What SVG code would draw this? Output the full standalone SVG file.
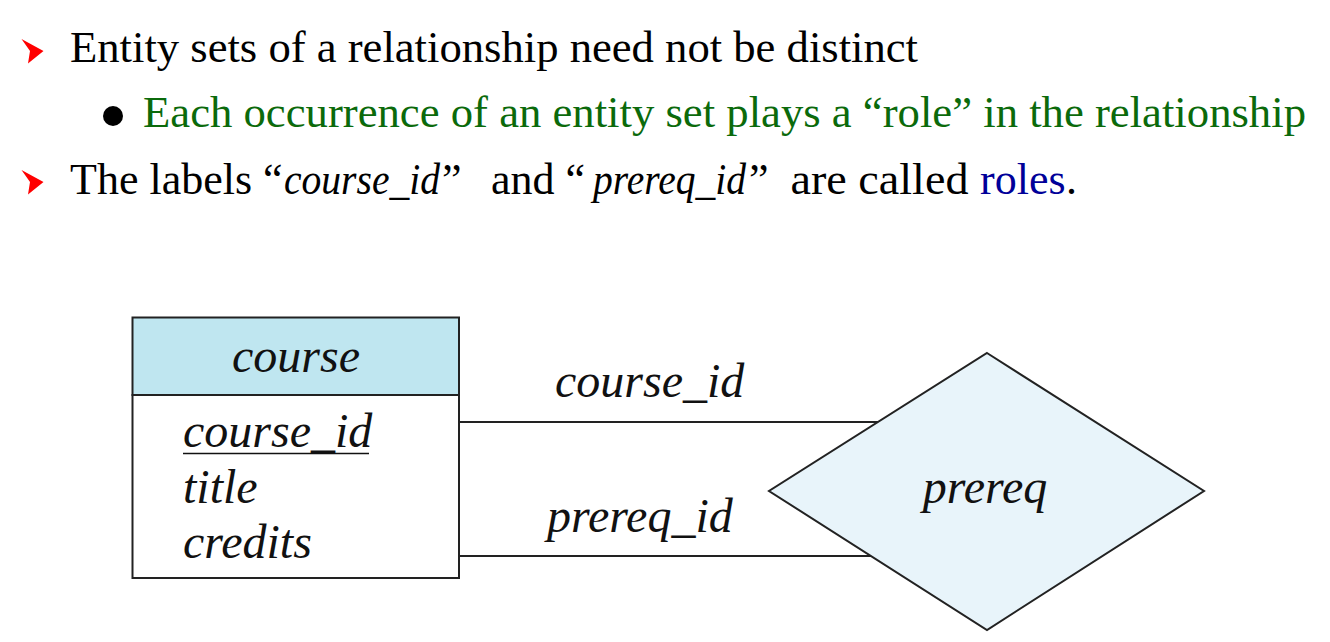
<svg xmlns="http://www.w3.org/2000/svg" width="1330" height="642" viewBox="0 0 1330 642">
<style>
.body{font-family:'Liberation Serif','DejaVu Serif',serif;font-size:44px;fill:#000}
.it{font-style:italic}
.green{fill:#0b6a0b}
.blue{fill:#000099}
.er{font-family:'Liberation Serif','DejaVu Serif',serif;font-style:italic;font-size:48px;fill:#111}
.edge{stroke:#222;stroke-width:2;fill:none}
.arrowb{fill:#ff0000}
</style>
<defs>
<polygon id="bul" points="0,0 22,12 6.5,24.5 8.5,12"/>
</defs>
<rect width="1330" height="642" fill="#fff"/>
<g id="bullets-text">
<use href="#bul" x="21.5" y="39" class="arrowb"/>
<text class="body" x="70" y="62" textLength="848" lengthAdjust="spacingAndGlyphs">Entity sets of a relationship need not be distinct</text>
<circle cx="113" cy="116" r="10" fill="#000"/>
<text class="body green" x="143" y="127" textLength="1163" lengthAdjust="spacingAndGlyphs">Each occurrence of an entity set plays a “role” in the relationship</text>
<use href="#bul" x="21.5" y="170" class="arrowb"/>
<text class="body" y="193.5"><tspan x="70">The labels “</tspan><tspan x="284" class="it" textLength="156" lengthAdjust="spacingAndGlyphs">course_id</tspan><tspan x="442">”</tspan><tspan x="480"> and “</tspan><tspan x="593" class="it" textLength="153" lengthAdjust="spacingAndGlyphs">prereq_id</tspan><tspan x="749">”</tspan><tspan x="779" textLength="201" lengthAdjust="spacingAndGlyphs"> are called </tspan><tspan x="980" class="blue">roles</tspan><tspan x="1066">.</tspan></text>
</g>
<g id="connectors">
<line class="edge" x1="459" y1="422" x2="879" y2="422"/>
<line class="edge" x1="459" y1="556" x2="871" y2="556"/>
<text class="er" x="555" y="397">course_id</text>
<text class="er" x="547" y="532">prereq_id</text>
</g>
<g id="course">
<rect x="132.5" y="317.5" width="326.5" height="77.5" fill="#bfe6f0" stroke="#222" stroke-width="2"/>
<rect x="132.5" y="395" width="326.5" height="183" fill="#fff" stroke="#222" stroke-width="2"/>
<text class="er" x="296" y="372" text-anchor="middle">course</text>
<text class="er" x="183" y="447">course_id</text>
<line x1="183" y1="453.5" x2="369" y2="453.5" stroke="#111" stroke-width="1.6"/>
<text class="er" x="183" y="503">title</text>
<text class="er" x="183" y="558">credits</text>
</g>
<g id="prereq">
<polygon points="987,353 1204,491 987,630 769,491" fill="#e8f4fa" stroke="#222" stroke-width="2"/>
<text class="er" x="985" y="503" text-anchor="middle">prereq</text>
</g>
</svg>
